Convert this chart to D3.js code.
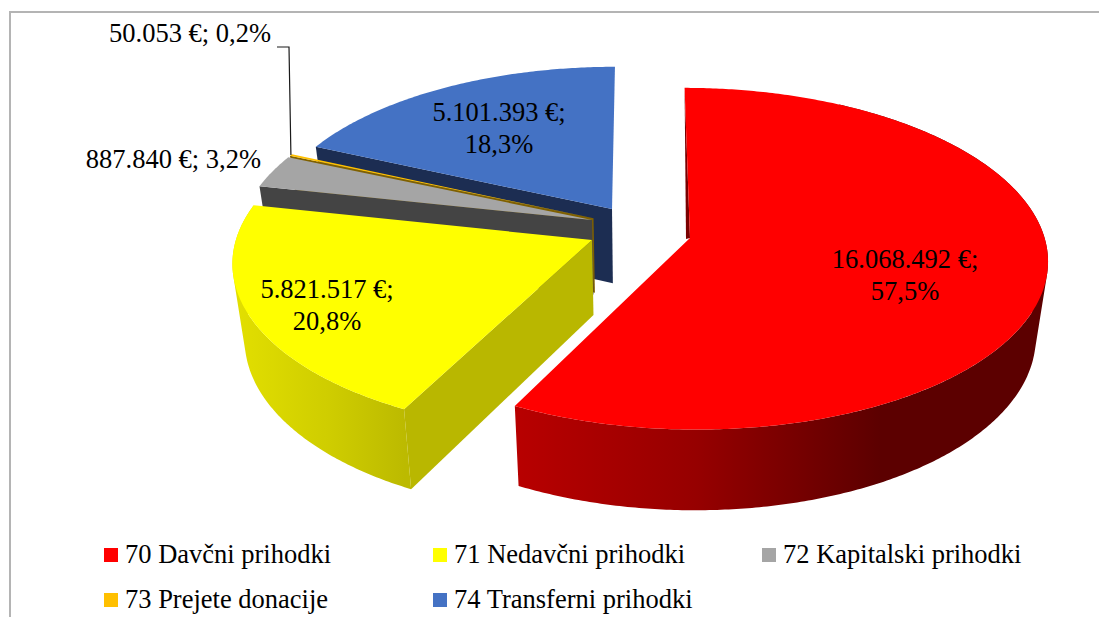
<!DOCTYPE html>
<html><head><meta charset="utf-8">
<script src="https://cdn.jsdelivr.net/npm/d3@7/dist/d3.min.js"></script>
<style>html,body{margin:0;padding:0;background:#fff}svg{display:block}text{font-family:"Liberation Serif",serif;fill:#000}</style>
</head><body><div id="c"></div>
<script>
const categories = ["70 Davčni prihodki","71 Nedavčni prihodki","72 Kapitalski prihodki","73 Prejete donacije","74 Transferni prihodki"];
const values = [16068492,5821517,887840,50053,5101393];
const topColors = ["#ff0000","#ffff00","#a5a5a5","#ffc000","#4472c4"];
const sideColors = ["#600000","#b9b700","#444444","#7f6000","#1c2d52"];

// ---- layout (not data) ----
const W=1099,H=617;
const explode=[[.141,.108],[-.135,.1203],[-.137,0],[-.133,-.010],[-.0806,-.067]];
const radiusFactor=[1,1.003,1,1,.985];
const wallSkip=[.5,0,0,0,0];
const labelPlace=[[905,268,"middle",true],[327,298,"middle",true],[261,168,"end",false],[271,42,"end",false],[499,121,"middle",true]];
const legendPlace=[[104,563],[433,563],[762,563],[104,608],[433,608]];
const P={ox:640,oy:220,R:350,Rf:164,k:.12,lowX:.97,depth:75,depthGrow:.03};

const svg=d3.select("#c").append("svg").attr("width",W).attr("height",H);
svg.append("rect").attr("width",W).attr("height",H).attr("fill","#fff");
const border=d3.path();border.moveTo(10,H);border.lineTo(10,12);border.lineTo(W,12);
svg.append("path").attr("d",border.toString()).attr("fill","none").attr("stroke","#b4b4b4").attr("stroke-width",2);

const defs=svg.append("defs");
function grad(id,x1,x2,stops){
  const g=defs.append("linearGradient").attr("id",id).attr("gradientUnits","userSpaceOnUse")
    .attr("x1",x1).attr("x2",x2).attr("y1",0).attr("y2",0);
  stops.forEach(s=>g.append("stop").attr("offset",s[0]).attr("stop-color",s[1]));
}
grad("gRed",515,880,[[0,"#b80000"],[.5,"#960000"],[1,"#5c0000"]]);
grad("gYel",236,405,[[0,"#e2df00"],[.55,"#cfcd00"],[1,"#bcba00"]]);

const total=d3.sum(values);
const arcs=d3.pie().sort(null).value(d=>d)(values);
const loc=d3.formatLocale({decimal:",",thousands:".",grouping:[3],currency:["","€"]});
const fmtInt=loc.format(",d"), fmtPct=loc.format(".1f");

function upper(i,a,r){ // disk point -> screen, upper plane
  const f=r*radiusFactor[i];
  const u=explode[i][0]+f*Math.sin(a), v=explode[i][1]-f*Math.cos(a), d=1-P.k*v;
  return [P.ox+P.R*u/d, P.oy+P.Rf*v/d];
}
function lower(p){return [P.ox+(p[0]-P.ox)*P.lowX, p[1]+P.depth+(p[1]-240)*P.depthGrow];}
function rim(i,a0,a1){
  const n=Math.max(2,Math.ceil((a1-a0)/0.01));
  return d3.range(n+1).map(j=>upper(i,a0+(a1-a0)*j/n,1));
}
const line=d3.line();
const g=svg.append("g");
function face(i){
  const A=arcs[i];
  return line([upper(i,0,0),...rim(i,A.startAngle,A.endAngle)])+"Z";
}
function radialWall(i,a){
  const c=upper(i,0,0),e=upper(i,a,1);
  return line([e,c,lower(c),lower(e)])+"Z";
}
function outerWall(i){
  const A=arcs[i],t=rim(i,A.startAngle+wallSkip[i],A.endAngle);
  let d="";
  for(let j=0;j<t.length-1;j++){
    const q=[t[j],t[j+1],lower(t[j+1]),lower(t[j])];
    if(d3.polygonArea(q)<0) q.reverse();
    d+=line(q)+"Z";
  }
  return d;
}
function put(d,fill){g.append("path").attr("d",d).attr("fill",fill);}

// back to front
put(radialWall(4,arcs[4].startAngle),sideColors[4]); put(face(4),topColors[4]);
put(radialWall(3,arcs[3].startAngle),sideColors[3]); put(face(3),topColors[3]);
put(radialWall(2,arcs[2].startAngle),sideColors[2]); put(face(2),topColors[2]);
put(radialWall(1,arcs[1].startAngle),sideColors[1]);
put(outerWall(1),"url(#gYel)"); put(face(1),topColors[1]);
// thin inner wall of the big slice, seen beside its upper edge
const c0=upper(0,0,0),e0=upper(0,arcs[0].startAngle,1);
put(line([e0,c0,[c0[0]-4,c0[1]+1]])+"Z","#7a0000");
put(outerWall(0),"url(#gRed)"); put(face(0),topColors[0]);

// labels
const FS=26.5;
values.forEach((v,i)=>{
  const [x,y,anc,wrap]=labelPlace[i];
  const a=fmtInt(v)+" €;", b=fmtPct(v/total*100)+"%";
  const t=svg.append("text").attr("text-anchor",anc).attr("font-size",FS);
  if(wrap){
    t.append("tspan").attr("x",x).attr("y",y).text(a);
    t.append("tspan").attr("x",x).attr("y",y+32).text(b);
  } else t.attr("x",x).attr("y",y).text(a+" "+b);
});
// leader line
const ld=upper(3,(arcs[3].startAngle+arcs[3].endAngle)/2,1);
svg.append("path").attr("d",line([[277,47],[289,47],ld])).attr("fill","none").attr("stroke","#1a1a1a").attr("stroke-width",1.2);

// legend
categories.forEach((c,i)=>{
  const [x,y]=legendPlace[i];
  svg.append("rect").attr("x",x).attr("y",y-15).attr("width",14).attr("height",14).attr("fill",topColors[i]);
  svg.append("text").attr("x",x+21).attr("y",y).attr("font-size",FS).text(c);
});
</script></body></html>
